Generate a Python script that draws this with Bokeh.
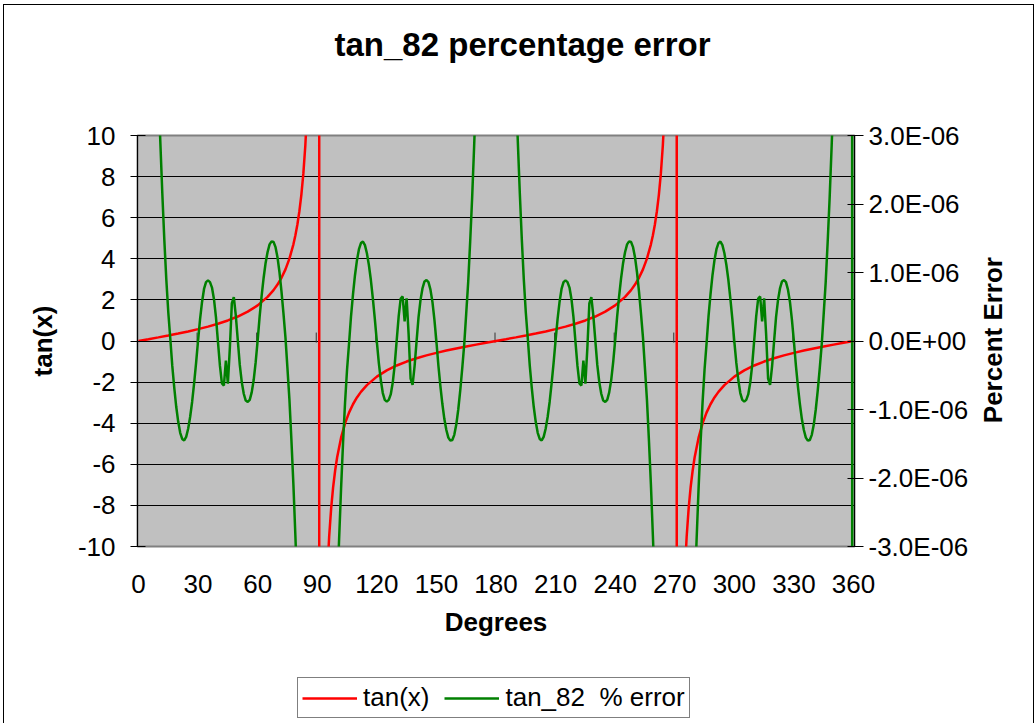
import math
from bokeh.plotting import figure
from bokeh.layouts import column
from bokeh.models import (Range1d, LinearAxis, FixedTicker, CustomJSTickFormatter,
                          Legend, LegendItem, InlineStyleSheet, Title)
from bokeh.embed import file_html
from bokeh.resources import INLINE

FONT = "Liberation Sans"

# ---------------- data ----------------
degree_labels = [0, 30, 60, 90, 120, 150, 180, 210, 240, 270, 300, 330, 360]
tan_ticks = [-10, -8, -6, -4, -2, 0, 2, 4, 6, 8, 10]
err_ticks = [-3e-06, -2e-06, -1e-06, 0.0, 1e-06, 2e-06, 3e-06]

# red series: tan(x) at read points (degrees, value); +1e4 = off scale at the poles
tan_deg = [0, 5, 10, 15, 20, 25, 30, 35, 40, 45, 50, 55, 60, 65, 68, 70, 72, 74, 76, 78,
           79, 80, 81, 82, 83, 84, 85, 86, 87, 88, 89, 90, 91, 92, 93, 94, 95, 96, 97, 98, 99, 100,
           102, 104, 106, 108, 110, 112, 115, 120, 125, 130, 135, 140, 145, 150, 155, 160, 165, 170, 175,
           180, 185, 190, 195, 200, 205, 210, 215, 220, 225, 230, 235, 240, 245, 248, 250, 252, 254, 256, 258,
           259, 260, 261, 262, 263, 264, 265, 266, 267, 268, 269, 270, 271, 272, 273, 274, 275, 276, 277, 278, 279, 280,
           282, 284, 286, 288, 290, 292, 295, 300, 305, 310, 315, 320, 325, 330, 335, 340, 345, 350, 355,
           360]
tan_val = [0, 0.087, 0.176, 0.268, 0.364, 0.466, 0.577, 0.700, 0.839, 1.0, 1.192, 1.428, 1.732, 2.145,
           2.475, 2.747, 3.078, 3.487, 4.011, 4.705,
           5.145, 5.671, 6.314, 7.115, 8.144, 9.514, 11.43, 14.30, 19.08, 28.64, 57.29, 1e4,
           -57.29, -28.64, -19.08, -14.30, -11.43, -9.514, -8.144, -7.115, -6.314, -5.671,
           -4.705, -4.011, -3.487, -3.078, -2.747, -2.475,
           -2.145, -1.732, -1.428, -1.192, -1.0, -0.839, -0.700, -0.577, -0.466, -0.364, -0.268, -0.176, -0.087,
           0, 0.087, 0.176, 0.268, 0.364, 0.466, 0.577, 0.700, 0.839, 1.0, 1.192, 1.428, 1.732, 2.145,
           2.475, 2.747, 3.078, 3.487, 4.011, 4.705,
           5.145, 5.671, 6.314, 7.115, 8.144, 9.514, 11.43, 14.30, 19.08, 28.64, 57.29, 1e4,
           -57.29, -28.64, -19.08, -14.30, -11.43, -9.514, -8.144, -7.115, -6.314, -5.671,
           -4.705, -4.011, -3.487, -3.078, -2.747, -2.475,
           -2.145, -1.732, -1.428, -1.192, -1.0, -0.839, -0.700, -0.577, -0.466, -0.364, -0.268, -0.176, -0.087,
           0]

# green series: tan_82 percent error, in units of 1E-06, at each whole degree
err_0_89 = [150, 75, 38, 24, 17, 12.5, 9.6, 7.5, 5.9, 4.7,
            3.7, 2.9, 2.15, 1.48, 0.90, 0.42, 0.04, -0.36, -0.68, -0.96,
            -1.18, -1.34, -1.43, -1.452, -1.40, -1.28, -1.11, -0.89, -0.62, -0.32,
            0.01, 0.32, 0.57, 0.76, 0.86, 0.885, 0.86, 0.78, 0.61, 0.35,
            -0.01, -0.36, -0.62, -0.65, -0.285, -0.624, -0.10, 0.55, 0.64, 0.37,
            0.01, -0.35, -0.60, -0.77, -0.87, -0.89, -0.86, -0.75, -0.57, -0.31,
            0.01, 0.36, 0.66, 0.92, 1.14, 1.30, 1.41, 1.455, 1.445, 1.37,
            1.22, 1.00, 0.72, 0.40, 0.05, -0.40, -0.86, -1.45, -2.1, -2.85,
            -3.65, -4.7, -5.9, -7.5, -9.6, -12.5, -17, -24, -38, -75]
err_90_179 = [-150, -75, -38, -24, -17, -12.5, -9.6, -7.5, -5.9, -4.7,
              -3.7, -2.9, -2.15, -1.48, -0.90, -0.42, -0.04, 0.36, 0.68, 0.96,
              1.18, 1.34, 1.43, 1.452, 1.40, 1.28, 1.11, 0.89, 0.62, 0.32,
              -0.01, -0.32, -0.57, -0.76, -0.86, -0.885, -0.86, -0.78, -0.61, -0.35,
              0.01, 0.36, 0.62, 0.65, 0.285, 0.624, 0.10, -0.55, -0.64, -0.37,
              -0.01, 0.35, 0.60, 0.77, 0.87, 0.89, 0.86, 0.75, 0.57, 0.31,
              -0.01, -0.36, -0.66, -0.92, -1.14, -1.30, -1.41, -1.455, -1.445, -1.37,
              -1.22, -1.00, -0.72, -0.40, -0.05, 0.40, 0.86, 1.45, 2.1, 2.85,
              3.65, 4.7, 5.9, 7.5, 9.6, 12.5, 17, 24, 38, 75]
err_180_269 = [150, 75, 38, 24, 17, 12.5, 9.6, 7.5, 5.9, 4.7,
               3.7, 2.9, 2.15, 1.48, 0.90, 0.42, 0.04, -0.36, -0.68, -0.96,
               -1.18, -1.34, -1.43, -1.452, -1.40, -1.28, -1.11, -0.89, -0.62, -0.32,
               0.01, 0.32, 0.57, 0.76, 0.86, 0.885, 0.86, 0.78, 0.61, 0.35,
               -0.01, -0.36, -0.62, -0.65, -0.285, -0.624, -0.10, 0.55, 0.64, 0.37,
               0.01, -0.35, -0.60, -0.77, -0.87, -0.89, -0.86, -0.75, -0.57, -0.31,
               0.01, 0.36, 0.66, 0.92, 1.14, 1.30, 1.41, 1.455, 1.445, 1.37,
               1.22, 1.00, 0.72, 0.40, 0.05, -0.40, -0.86, -1.45, -2.1, -2.85,
               -3.65, -4.7, -5.9, -7.5, -9.6, -12.5, -17, -24, -38, -75]
err_270_360 = [-150, -75, -38, -24, -17, -12.5, -9.6, -7.5, -5.9, -4.7,
               -3.7, -2.9, -2.15, -1.48, -0.90, -0.42, -0.04, 0.36, 0.68, 0.96,
               1.18, 1.34, 1.43, 1.452, 1.40, 1.28, 1.11, 0.89, 0.62, 0.32,
               -0.01, -0.32, -0.57, -0.76, -0.86, -0.885, -0.86, -0.78, -0.61, -0.35,
               0.01, 0.36, 0.62, 0.65, 0.285, 0.624, 0.10, -0.55, -0.64, -0.37,
               -0.01, 0.35, 0.60, 0.77, 0.87, 0.89, 0.86, 0.75, 0.57, 0.31,
               -0.01, -0.36, -0.66, -0.92, -1.14, -1.30, -1.41, -1.455, -1.445, -1.37,
               -1.22, -1.00, -0.72, -0.40, -0.05, 0.40, 0.86, 1.45, 2.1, 2.85,
               3.65, 4.7, 5.9, 7.5, 9.6, 12.5, 17, 24, 38, 75,
               -150]

series_names = ["tan(x)", "tan_82  % error"]
series_colors = ["#FF0000", "#008000"]

# ---------------- build ----------------
err_e6 = err_0_89 + err_90_179 + err_180_269 + err_270_360
err_deg = list(range(len(err_e6)))
err_val = [v * 1e-06 for v in err_e6]

p = figure(width=1034, height=665, output_backend="svg", toolbar_location=None,
           x_range=Range1d(-0.5, 360.5), y_range=Range1d(-10, 10),
           min_border_left=137, min_border_right=180, min_border_top=135, min_border_bottom=119,
           background_fill_color="#C0C0C0", border_fill_color=None,
           outline_line_color="#808080", outline_line_width=2)
# thin chart-area border (left, top, right)
p.stylesheets = [InlineStyleSheet(css=":host { box-shadow: inset 3px 4px 0 0 #ffffff, "
                                      "inset 4px 5px 0 0 #000000, inset -1px 0 0 0 #000000; }")]

p.extra_y_ranges = {"err": Range1d(-3e-06, 3e-06)}

# title (outermost) with a blank spacer between it and the plot area
p.title.text = "tan_82 percentage error"
p.title.text_font = FONT
p.title.text_font_size = "33px"
p.title.text_font_style = "bold"
p.title.text_color = "black"
p.title.align = "left"
p.title.offset = 197
p.title.standoff = 10
p.add_layout(Title(text=" ", text_font_size="20px", standoff=44), "above")

# x axis (labels only, at the bottom)
xa = p.xaxis[0]
xa.ticker = FixedTicker(ticks=degree_labels)
xa.axis_line_color = None
xa.major_tick_line_color = None
xa.minor_tick_line_color = None
xa.major_tick_out = 0
xa.major_tick_in = 0
xa.major_label_standoff = 28
xa.major_label_text_font = FONT
xa.major_label_text_font_size = "26px"
xa.major_label_text_color = "black"
xa.axis_label = "Degrees"
xa.axis_label_text_font = FONT
xa.axis_label_text_font_size = "26px"
xa.axis_label_text_font_style = "bold"
xa.axis_label_text_color = "black"
xa.axis_label_standoff = 11

# left axis
ya = p.yaxis[0]
ya.ticker = FixedTicker(ticks=tan_ticks)
ya.formatter = CustomJSTickFormatter(code="return tick.toFixed(0);")
ya.axis_line_color = "black"
ya.axis_line_width = 1
ya.major_tick_line_color = "black"
ya.major_tick_in = 8
ya.major_tick_out = 7
ya.minor_tick_line_color = None
ya.major_label_standoff = 15
ya.major_label_text_font = FONT
ya.major_label_text_font_size = "26px"
ya.major_label_text_color = "black"
ya.axis_label = "tan(x)"
ya.axis_label_text_font = FONT
ya.axis_label_text_font_size = "26px"
ya.axis_label_text_font_style = "bold"
ya.axis_label_text_color = "black"
ya.axis_label_standoff = 17

# right axis (secondary, percent error)
ra = LinearAxis(y_range_name="err", ticker=FixedTicker(ticks=err_ticks),
                formatter=CustomJSTickFormatter(code="""
                    const m = Math.round(tick * 1e7) / 10;
                    if (m === 0) { return "0.0E+00"; }
                    return m.toFixed(1) + "E-06";
                """))
ra.axis_line_color = "black"
ra.major_tick_line_color = "black"
ra.major_tick_in = 7
ra.major_tick_out = 9
ra.minor_tick_line_color = None
ra.major_label_standoff = 5
ra.major_label_text_font = FONT
ra.major_label_text_font_size = "26px"
ra.major_label_text_color = "black"
p.add_layout(ra, "right")

# right axis title, written bottom-to-top (label starts at the tick, rotated)
rt = LinearAxis(ticker=FixedTicker(ticks=[-4.0]),
                formatter=CustomJSTickFormatter(code="return 'Percent Error';"),
                major_label_orientation=math.pi / 2)
rt.axis_line_color = None
rt.major_tick_line_color = None
rt.minor_tick_line_color = None
rt.major_tick_in = 0
rt.major_tick_out = 0
rt.major_label_standoff = 22
rt.major_label_text_font = FONT
rt.major_label_text_font_size = "26px"
rt.major_label_text_font_style = "bold"
rt.major_label_text_color = "black"
p.add_layout(rt, "right")

# grid
p.xgrid.visible = False
p.ygrid.ticker = FixedTicker(ticks=tan_ticks)
p.ygrid.grid_line_color = "black"
p.ygrid.grid_line_width = 1

# category tick marks on the zero line (category boundaries)
tick_marks = [t - 0.5 for t in degree_labels[1:]]
p.segment(x0=tick_marks, y0=[-0.08] * len(tick_marks), x1=tick_marks, y1=[0.41] * len(tick_marks),
          line_color="#333333", line_width=1)

p.line(tan_deg, tan_val, line_color=series_colors[0], line_width=2.5)
p.line(err_deg, err_val, y_range_name="err", line_color=series_colors[1], line_width=2.5)

# ---------------- legend strip under the chart ----------------
pl = figure(width=1034, height=58, output_backend="svg", toolbar_location=None,
            x_axis_type=None, y_axis_type=None, min_border=0,
            x_range=Range1d(1000, 1001), y_range=Range1d(1000, 1001),
            outline_line_color=None, background_fill_color=None, border_fill_color=None)
pl.stylesheets = [InlineStyleSheet(css=":host { box-shadow: inset 3px 0 0 0 #ffffff, "
                                       "inset 4px 0 0 0 #000000, inset -1px 0 0 0 #000000; }")]
# legend keys: the same series, drawn outside this strip's (empty) view
k_tan = pl.line(tan_deg, tan_val, line_color=series_colors[0], line_width=2.5)
k_err = pl.line(err_deg, err_e6, line_color=series_colors[1], line_width=2.5)
legend = Legend(items=[LegendItem(label=series_names[0], renderers=[k_tan]),
                       LegendItem(label=series_names[1], renderers=[k_err])],
                location=(160, 5), orientation="horizontal",
                label_text_font=FONT, label_text_font_size="26px", label_text_color="black",
                glyph_width=55, glyph_height=20, label_standoff=6, spacing=15,
                padding=4, margin=0,
                border_line_color="black", border_line_width=1,
                background_fill_color="white", background_fill_alpha=1.0)
pl.add_layout(legend, "center")

layout = column(p, pl, spacing=0)
open("out.html", "w").write(file_html(layout, INLINE))
